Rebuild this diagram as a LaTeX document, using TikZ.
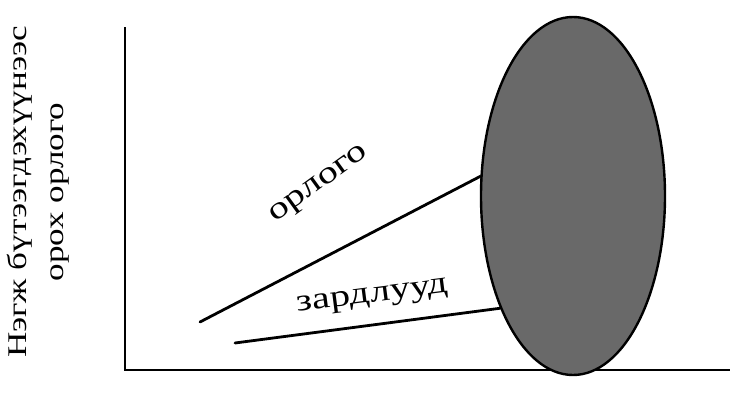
\documentclass[tikz,border=0pt]{standalone}
\usepackage{fontspec}
\setmainfont{Liberation Serif}[FakeStretch=1.3]
\usetikzlibrary{shapes.geometric}
\definecolor{blobgray}{RGB}{105,105,105}
\tikzset{
  axis/.style={line width=2.8pt, line cap=rect},
  curveline/.style={line width=2.8pt, line cap=round},
  lbl/.style={font=\fontsize{31}{37}\selectfont, inner sep=0pt},
  ylbl/.style={font=\fontsize{27}{37}\selectfont, inner sep=0pt, align=center, rotate=90},
  blob/.style={ellipse, draw=black, line width=2.4pt, fill=blobgray, minimum width=184pt, minimum height=358pt, inner sep=0pt}
}
\begin{document}
\begin{tikzpicture}[x=1pt,y=-1pt]
\useasboundingbox (0,0) rectangle (731,404);
\coordinate (ytop) at (125,28);
\coordinate (orig) at (125,370);
\coordinate (xend) at (729,370);
\draw[axis] (ytop) -- (orig) -- (xend);
\node[blob] (e) at (573,196) {};
\coordinate (s1) at (200,322);
\coordinate (s2) at (235,343);
\draw[curveline] (s1) -- (e.168);
\draw[curveline] (s2) -- (e.237);
\node[lbl, rotate=36] (l1) at (320,185) {орлого};
\node[lbl, rotate=7.4] (l2) at (373,298) {зардлууд};
\node[ylbl] (yl) at (38,192) {Нэгж бүтээгдэхүүнээс\\орох орлого};
\end{tikzpicture}
\end{document}
